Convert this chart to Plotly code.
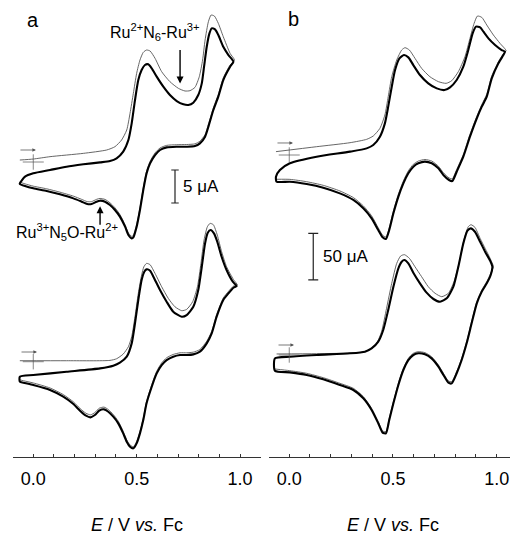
import plotly.graph_objects as go

# ---------------- DATA (E in V vs Fc, I in microampere, each CV relative to its own zero mark) ----------------
# Panel a, upper CV
a1_fwd_E = [-0.065, -0.040, 0.000, 0.081, 0.161, 0.242, 0.323, 0.371, 0.403, 0.435, 0.460, 0.476, 0.492, 0.508, 0.524,
            0.540, 0.556, 0.573, 0.597, 0.629, 0.661, 0.694, 0.726, 0.750, 0.774, 0.798, 0.815, 0.826, 0.839, 0.852,
            0.863, 0.879, 0.895, 0.919, 0.944, 0.968]
a1_fwd_I = [-3.23, -2.22, -1.72, -1.21, -0.71, -0.35, -0.05, 0.15, 0.56, 1.57, 3.33, 5.86, 9.39, 12.42, 13.94,
            14.70, 14.80, 14.19, 12.93, 11.41, 10.15, 9.24, 8.74, 8.64, 8.99, 10.15, 11.92, 14.44, 17.47, 19.49,
            20.25, 20.10, 19.24, 17.47, 16.21, 15.20]
a1_rev_E = [0.952, 0.919, 0.895, 0.871, 0.847, 0.831, 0.806, 0.782, 0.742, 0.694, 0.645, 0.613, 0.589, 0.565, 0.548,
            0.532, 0.516, 0.500, 0.484, 0.476, 0.460, 0.444, 0.419, 0.395, 0.371, 0.347, 0.323, 0.306, 0.282, 0.261,
            0.234, 0.194, 0.129, 0.065, 0.000, -0.040, -0.065]
a1_rev_I = [14.44, 12.42, 9.90, 7.88, 5.35, 3.84, 2.83, 2.42, 2.32, 2.32, 2.22, 1.82, 1.06, -0.20, -1.72,
            -4.24, -7.27, -9.80, -11.41, -11.57, -11.06, -9.80, -8.28, -7.27, -6.52, -6.01, -5.86, -6.01, -6.36, -6.36,
            -6.01, -5.51, -4.90, -4.39, -3.99, -3.64, -3.33]
a1_thin_fwd_E = [-0.065, 0.000, 0.081, 0.242, 0.355, 0.395, 0.427, 0.452, 0.468, 0.484, 0.500, 0.516, 0.532, 0.548,
                 0.565, 0.589, 0.621, 0.661, 0.702, 0.734, 0.758, 0.782, 0.803, 0.819, 0.831, 0.847, 0.860, 0.876,
                 0.895, 0.919, 0.952, 0.973]
a1_thin_fwd_I = [0.30, 0.45, 0.81, 1.31, 1.82, 2.32, 3.33, 4.85, 7.37, 10.40, 13.43, 15.45, 16.62, 16.97,
                 16.82, 15.71, 13.69, 12.17, 11.16, 10.76, 10.81, 11.31, 12.93, 15.45, 18.48, 21.26, 22.27, 22.12,
                 21.01, 18.99, 16.46, 15.45]
a1_thin_rev_I = [14.70, 12.75, 10.25, 8.20, 5.70, 4.15, 3.15, 2.75, 2.65, 2.62, 2.52, 2.12, 1.38, 0.12, -1.40,
                 -3.92, -6.95, -9.48, -11.10, -11.27, -10.75, -9.50, -7.95, -6.93, -6.18, -5.67, -5.52, -5.66, -6.00, -6.00,
                 -5.66, -5.17, -4.57, -4.06, -3.66, -3.31, -3.05]

# Panel a, lower CV
a2_fwd_E = [-0.065, 0.000, 0.161, 0.323, 0.387, 0.419, 0.452, 0.476, 0.492, 0.508, 0.524, 0.537, 0.548, 0.565, 0.581,
            0.613, 0.645, 0.677, 0.718, 0.742, 0.774, 0.798, 0.815, 0.831, 0.844, 0.858, 0.874, 0.890, 0.911, 0.935,
            0.965, 0.984]
a2_fwd_I = [-2.27, -2.02, -1.52, -1.01, -0.61, -0.15, 0.76, 2.78, 5.81, 9.34, 12.37, 13.64, 13.99, 13.79, 12.88,
            10.86, 9.09, 7.58, 6.82, 7.07, 8.33, 10.86, 14.39, 17.93, 19.55, 19.95, 19.44, 18.18, 15.91, 13.89,
            12.12, 11.46]
a2_rev_E = [0.968, 0.944, 0.919, 0.887, 0.863, 0.839, 0.806, 0.774, 0.742, 0.710, 0.677, 0.645, 0.621, 0.597, 0.573,
            0.548, 0.532, 0.516, 0.500, 0.484, 0.468, 0.452, 0.435, 0.411, 0.387, 0.363, 0.342, 0.319, 0.298, 0.277,
            0.255, 0.226, 0.194, 0.145, 0.081, 0.000, -0.048, -0.065]
a2_rev_I = [11.21, 10.35, 9.34, 6.82, 4.29, 2.78, 1.52, 1.11, 1.01, 1.01, 0.76, 0.25, -0.51, -1.77, -3.79,
            -6.31, -8.84, -10.86, -12.37, -13.13, -12.88, -12.12, -10.86, -9.34, -8.33, -7.58, -7.22, -7.42, -8.08, -8.43,
            -8.18, -7.42, -6.41, -5.30, -4.29, -3.54, -3.18, -3.03]
a2_thin_fwd_E = [-0.065, 0.161, 0.371, 0.403, 0.435, 0.460, 0.476, 0.492, 0.508, 0.524, 0.535, 0.548, 0.565, 0.589,
                 0.621, 0.653, 0.685, 0.718, 0.742, 0.771, 0.794, 0.811, 0.826, 0.842, 0.855, 0.871, 0.890, 0.911,
                 0.935, 0.968, 0.987]
a2_thin_fwd_I = [0.15, 0.15, 0.20, 0.45, 1.16, 2.27, 3.79, 6.82, 10.35, 13.13, 14.39, 14.90, 14.70, 13.38,
                 11.36, 9.60, 8.33, 7.73, 7.93, 9.09, 11.36, 14.90, 18.43, 20.45, 20.96, 20.76, 19.19, 16.67,
                 14.39, 12.47, 11.62]
a2_thin_rev_I = [11.45, 10.65, 9.65, 7.15, 4.60, 3.10, 1.85, 1.45, 1.35, 1.35, 1.10, 0.60, -0.18, -1.45, -3.48,
                 -6.00, -8.55, -10.58, -12.10, -12.88, -12.62, -11.85, -10.55, -9.02, -8.00, -7.25, -6.88, -7.05, -7.70, -8.05,
                 -7.82, -7.08, -6.08, -4.98, -3.98, -3.22, -2.88, -2.75]

# Panel b, upper CV
b1_fwd_E = [-0.064, -0.045, 0.003, 0.132, 0.293, 0.373, 0.405, 0.437, 0.461, 0.477, 0.494, 0.510, 0.531, 0.553, 0.574,
            0.598, 0.630, 0.670, 0.711, 0.748, 0.775, 0.807, 0.839, 0.863, 0.884, 0.900, 0.920, 0.936, 0.960, 0.992,
            1.024, 1.040]
b1_fwd_I = [-23.2, -16.1, -8.9, -1.8, 3.6, 7.1, 10.7, 19.6, 33.9, 51.8, 73.2, 91.1, 103.6, 107.1, 104.6,
            96.4, 85.7, 76.8, 71.4, 69.6, 72.5, 80.4, 94.6, 112.5, 130.4, 137.5, 136.8, 132.1, 125.0, 117.9,
            112.5, 110.7]
b1_rev_E = [1.032, 1.008, 0.976, 0.952, 0.928, 0.904, 0.871, 0.839, 0.807, 0.786, 0.770, 0.743, 0.719, 0.687, 0.654,
            0.622, 0.598, 0.574, 0.550, 0.526, 0.502, 0.482, 0.466, 0.450, 0.429, 0.397, 0.357, 0.309, 0.244, 0.164,
            0.084, 0.003, -0.061]
b1_rev_I = [107.1, 98.2, 82.1, 62.5, 51.8, 39.3, 19.6, -1.8, -17.9, -27.9, -26.8, -21.4, -14.3, -8.9, -7.1,
            -8.9, -12.5, -19.6, -30.4, -44.6, -62.5, -80.4, -90.0, -88.2, -80.4, -67.9, -57.1, -48.2, -41.1, -35.0,
            -31.1, -28.6, -28.6]
b1_thin_fwd_E = [-0.064, 0.132, 0.293, 0.373, 0.405, 0.437, 0.461, 0.477, 0.494, 0.518, 0.542, 0.558, 0.579, 0.606,
                 0.638, 0.678, 0.719, 0.756, 0.783, 0.815, 0.847, 0.871, 0.891, 0.907, 0.928, 0.952, 0.984, 1.016, 1.045]
b1_thin_fwd_I = [3.6, 8.9, 13.2, 16.8, 20.4, 28.6, 42.9, 62.5, 83.9, 101.8, 112.5, 115.0, 112.5, 103.6,
                 92.9, 83.9, 78.6, 76.8, 79.6, 89.3, 105.4, 125.0, 141.1, 148.9, 147.5, 139.3, 128.6, 119.6, 111.8]
b1_thin_rev_I = [108.5, 100.0, 84.5, 65.0, 54.0, 41.5, 22.0, 0.5, -15.5, -25.5, -24.5, -19.0, -12.0, -6.5, -4.8,
                 -6.5, -10.0, -17.0, -27.8, -42.0, -60.0, -78.0, -87.8, -86.0, -78.0, -65.2, -54.5, -45.6, -38.5, -32.5,
                 -28.6, -26.1, -26.0]

# Panel b, lower CV
b2_fwd_E = [-0.069, 0.003, 0.132, 0.293, 0.365, 0.397, 0.429, 0.453, 0.477, 0.502, 0.526, 0.542, 0.555, 0.574, 0.598,
            0.630, 0.662, 0.695, 0.727, 0.759, 0.791, 0.815, 0.839, 0.859, 0.875, 0.895, 0.920, 0.944, 0.968, 0.979]
b2_fwd_I = [-3.6, -1.8, 0.0, 1.8, 3.6, 7.1, 14.3, 26.8, 48.2, 73.2, 92.9, 100.0, 101.8, 98.2, 88.2,
            76.8, 66.8, 60.0, 57.1, 60.7, 73.2, 94.6, 119.6, 133.2, 135.7, 132.1, 121.4, 110.7, 101.1, 94.6]
b2_rev_E = [0.971, 0.952, 0.928, 0.904, 0.879, 0.855, 0.831, 0.807, 0.783, 0.767, 0.743, 0.719, 0.686, 0.654, 0.622,
            0.598, 0.574, 0.550, 0.526, 0.502, 0.482, 0.466, 0.450, 0.429, 0.397, 0.357, 0.309, 0.244, 0.164, 0.084,
            0.003, -0.069]
b2_rev_I = [85.7, 76.8, 67.9, 55.4, 33.9, 12.5, -5.4, -19.6, -30.4, -29.6, -21.4, -12.5, -3.6, 0.7, 1.8,
            0.0, -5.4, -16.1, -32.1, -51.8, -69.6, -83.9, -83.2, -73.2, -58.9, -46.4, -37.5, -32.1, -26.1, -21.4,
            -18.6, -16.8]
b2_thin_fwd_E = [-0.061, 0.132, 0.293, 0.357, 0.389, 0.421, 0.445, 0.469, 0.494, 0.518, 0.537, 0.555, 0.579, 0.606,
                 0.638, 0.670, 0.703, 0.735, 0.767, 0.794, 0.820, 0.844, 0.863, 0.876, 0.895, 0.920, 0.944, 0.968, 0.984]
b2_thin_fwd_I = [1.1, 1.4, 2.1, 3.2, 6.1, 12.5, 25.0, 50.0, 76.8, 98.2, 106.1, 107.5, 103.6, 94.6,
                 83.9, 73.2, 66.1, 62.5, 66.1, 78.6, 100.0, 125.0, 137.5, 139.6, 136.8, 125.0, 114.3, 103.6, 94.6]
b2_thin_rev_I = [87.5, 78.6, 69.7, 57.2, 35.7, 14.3, -3.6, -17.8, -28.6, -27.8, -19.6, -10.7, -1.8, 2.5, 3.6,
                 1.8, -3.6, -14.3, -30.3, -50.0, -67.8, -82.1, -81.4, -71.4, -57.1, -44.6, -35.7, -30.3, -24.3, -19.6,
                 -16.8, -15.0]

# vertical offsets of the lower CVs (microampere)
offset_a2 = -30.26
offset_b2 = -214.3

# axis ticks
tick_vals = [0.0, 0.5, 1.0]
tick_text = ["0.0", "0.5", "1.0"]
minor_tick_vals = [-0.1, 0.1, 0.2, 0.3, 0.4, 0.6, 0.7, 0.8, 0.9]

# scale bars
scale_a = 5    # uA
scale_b = 50   # uA

FONT = "Liberation Sans, Arial, sans-serif"
THICK = "#000000"
THIN = "#555555"

fig = go.Figure()


def add_cv(xa, ya, fE, fI, rE, rI, tfE, tfI, trI, off):
    # thin line: first scan
    fig.add_trace(go.Scatter(
        x=tfE + rE, y=[v + off for v in tfI + trI], xaxis=xa, yaxis=ya, mode="lines",
        line=dict(color=THIN, width=0.9, shape="spline", smoothing=0.6), hoverinfo="skip"))
    # thick line: closed cycle
    fig.add_trace(go.Scatter(
        x=fE + rE + [fE[0]], y=[v + off for v in fI + rI + [fI[0]]], xaxis=xa, yaxis=ya, mode="lines",
        line=dict(color=THICK, width=2.1, shape="spline", smoothing=0.6), hoverinfo="skip"))
    # zero mark (+)
    fig.add_trace(go.Scatter(x=[0, 0], y=[off, off], xaxis=xa, yaxis=ya, mode="markers",
                             marker=dict(symbol=["line-ew", "line-ns"], size=[15, 11],
                                         line=dict(color=THIN, width=1)), hoverinfo="skip"))


add_cv("x", "y", a1_fwd_E, a1_fwd_I, a1_rev_E, a1_rev_I, a1_thin_fwd_E, a1_thin_fwd_I, a1_thin_rev_I, 0.0)
add_cv("x", "y", a2_fwd_E, a2_fwd_I, a2_rev_E, a2_rev_I, a2_thin_fwd_E, a2_thin_fwd_I, a2_thin_rev_I, offset_a2)
add_cv("x2", "y2", b1_fwd_E, b1_fwd_I, b1_rev_E, b1_rev_I, b1_thin_fwd_E, b1_thin_fwd_I, b1_thin_rev_I, 0.0)
add_cv("x2", "y2", b2_fwd_E, b2_fwd_I, b2_rev_E, b2_rev_I, b2_thin_fwd_E, b2_thin_fwd_I, b2_thin_rev_I, offset_b2)

annotations = []
shapes = []

# start-of-scan arrows
for xr, yr, xv, yv in [("x", "y", 0.013, 1.82), ("x", "y", 0.018, offset_a2 + 1.47),
                       ("x2", "y2", 0.018, 12.9), ("x2", "y2", 0.023, offset_b2 + 10.7)]:
    annotations.append(dict(x=xv, y=yv, xref=xr, yref=yr, ax=-17, ay=0, text="", showarrow=True,
                            arrowhead=2, arrowsize=0.9, arrowwidth=0.8, arrowcolor=THIN, standoff=0))

# pointing arrows with species labels
annotations.append(dict(x=0.710, y=11.9, xref="x", yref="y", ax=0, ay=-35, text="", showarrow=True,
                        arrowhead=2, arrowsize=1.0, arrowwidth=1.4, arrowcolor="black", standoff=0))
annotations.append(dict(x=0.323, y=-6.7, xref="x", yref="y", ax=0, ay=20, text="", showarrow=True,
                        arrowhead=2, arrowsize=1.0, arrowwidth=1.4, arrowcolor="black", standoff=0))
annotations.append(dict(x=0.589, y=19.7, xref="x", yref="y", text="Ru<sup>2+</sup>N<sub>6</sub>-Ru<sup>3+</sup>",
                        showarrow=False, font=dict(family=FONT, size=16, color="black"), xanchor="center", yanchor="middle"))
annotations.append(dict(x=0.163, y=-10.6, xref="x", yref="y", text="Ru<sup>3+</sup>N<sub>5</sub>O-Ru<sup>2+</sup>",
                        showarrow=False, font=dict(family=FONT, size=16, color="black"), xanchor="center", yanchor="middle"))

# scale bars
for xr, yr, xv, ytop, val, cap, txt in [("x", "y", 0.6855, -1.21, scale_a, 0.018, "5 μA"),
                                        ("x2", "y2", 0.1157, -83.9, scale_b, 0.024, "50 μA")]:
    ybot = ytop - val
    shapes.append(dict(type="line", xref=xr, yref=yr, x0=xv, x1=xv, y0=ybot, y1=ytop,
                       line=dict(color="#222", width=1.2)))
    for yy in (ytop, ybot):
        shapes.append(dict(type="line", xref=xr, yref=yr, x0=xv - cap, x1=xv + cap, y0=yy, y1=yy,
                           line=dict(color="#222", width=1.2)))
    annotations.append(dict(x=xv + 1.6 * cap, y=(ytop + ybot) / 2, xref=xr, yref=yr, text=txt, showarrow=False,
                            xanchor="left", yanchor="middle", font=dict(family=FONT, size=17, color="black")))

# panel letters
annotations.append(dict(x=33 / 510, y=0.956, xref="paper", yref="paper", text="a", showarrow=False,
                        font=dict(family=FONT, size=20, color="black"), xanchor="center", yanchor="middle"))
annotations.append(dict(x=293 / 510, y=0.958, xref="paper", yref="paper", text="b", showarrow=False,
                        font=dict(family=FONT, size=20, color="black"), xanchor="center", yanchor="middle"))

# axis titles
for xr in ("x", "x2"):
    annotations.append(dict(x=0.5, y=-0.149, xref=xr, yref="paper", text="<i>E</i> / V <i>vs.</i> Fc",
                            showarrow=False, font=dict(family=FONT, size=18, color="black"),
                            xanchor="center", yanchor="middle"))

xcommon = dict(showline=True, linecolor="#333", linewidth=1, ticks="inside", ticklen=3, tickcolor="#333",
               tickvals=tick_vals, ticktext=tick_text, showgrid=False, zeroline=False,
               minor=dict(tickvals=minor_tick_vals, ticks="inside", ticklen=3, tickcolor="#333", showgrid=False),
               tickfont=dict(family=FONT, size=18, color="black"), ticklabelstandoff=5,
               ticklabeloverflow="allow", fixedrange=True)

fig.update_layout(
    width=510, height=535, margin=dict(l=0, r=0, t=0, b=78),
    paper_bgcolor="white", plot_bgcolor="white", showlegend=False,
    xaxis=dict(domain=[12.6 / 510, 260.7 / 510], range=[-0.1, 1.1], anchor="y", **xcommon),
    xaxis2=dict(domain=[268.5 / 510, 1.0], range=[-0.1, 1.064], anchor="y2", **xcommon),
    yaxis=dict(domain=[0, 1], range=[-44.70, 24.55], visible=False, anchor="x", fixedrange=True),
    yaxis2=dict(domain=[0, 1], range=[-323.6, 166.1], visible=False, anchor="x2", fixedrange=True),
    annotations=annotations, shapes=shapes,
)

fig.write_html("out.html", config={"displayModeBar": False, "staticPlot": True},
               post_script="document.body.style.margin='0px';document.body.style.overflow='hidden';")
